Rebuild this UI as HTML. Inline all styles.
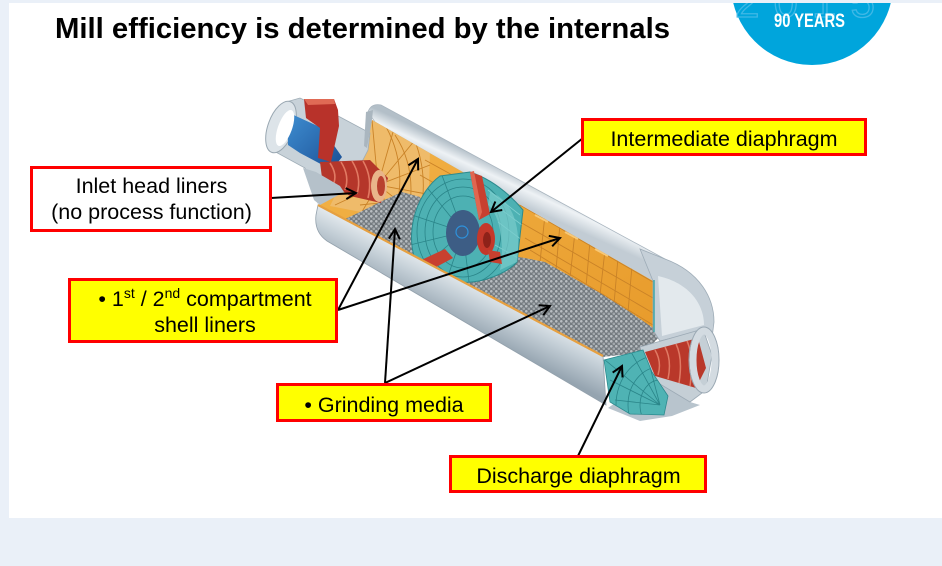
<!DOCTYPE html>
<html><head><meta charset="utf-8"><style>
html,body{margin:0;padding:0;background:#eaf0f8;}
svg{display:block;}
text{font-family:"Liberation Sans",Arial,sans-serif;}
</style></head><body>
<svg width="942" height="566" viewBox="0 0 942 566" xmlns="http://www.w3.org/2000/svg">
<defs>
  <pattern id="balls" width="5" height="5" patternUnits="userSpaceOnUse">
    <rect width="5" height="5" fill="#747b80"/>
    <circle cx="1.3" cy="1.3" r="1.3" fill="#b9bec2"/>
    <circle cx="3.8" cy="3.8" r="1.3" fill="#a3a9ad"/>
  </pattern>
  <linearGradient id="topband" gradientUnits="userSpaceOnUse" x1="505" y1="168" x2="494" y2="192">
    <stop offset="0" stop-color="#b3bfc8"/><stop offset="0.45" stop-color="#eef2f5"/><stop offset="1" stop-color="#c2ccd4"/>
  </linearGradient>
  <linearGradient id="lowband" gradientUnits="userSpaceOnUse" x1="450" y1="272" x2="430" y2="312">
    <stop offset="0" stop-color="#e3e9ed"/><stop offset="0.4" stop-color="#c3ced6"/><stop offset="1" stop-color="#95a4b0"/>
  </linearGradient>
  <linearGradient id="orng" x1="0" y1="0" x2="1" y2="1">
    <stop offset="0" stop-color="#f3b449"/><stop offset="1" stop-color="#e79a2a"/>
  </linearGradient>
  <linearGradient id="blue" x1="0" y1="0" x2="1" y2="1">
    <stop offset="0" stop-color="#3f8fd2"/><stop offset="1" stop-color="#1b4f95"/>
  </linearGradient>
  <marker id="ah" markerWidth="14" markerHeight="14" refX="12" refY="7" orient="auto" markerUnits="userSpaceOnUse">
    <path d="M2,1.5 L12,7 L2,12.5" fill="none" stroke="#000" stroke-width="2"/>
  </marker>
  <clipPath id="panel"><rect x="9" y="3" width="933" height="515"/></clipPath>
  <clipPath id="orClip"><polygon points="372,120 653,281 653,335 603,356 318,205 340,190 366,148"/></clipPath>
  <clipPath id="teal1"><path d="M440,176 C418,192 406,228 414,256 C422,276 448,284 472,282 C492,280 510,270 517,262 L523,210 C506,190 488,178 470,172 Z"/></clipPath>
  <clipPath id="teal2"><polygon points="604,360 643,350 652,372 668,396 664,415 630,414 610,402"/></clipPath>
</defs>

<rect width="942" height="566" fill="#eaf0f8"/>
<rect x="9" y="3" width="933" height="515" fill="#ffffff"/>

<g clip-path="url(#panel)">
  <circle cx="812" cy="-16" r="81" fill="#00a5dc"/>
  <text x="812" y="17" text-anchor="middle" font-size="44" fill="none" stroke="#3fb8e6" stroke-width="1.3" letter-spacing="14">2015</text>
  <text x="774" y="27" font-size="19" font-weight="bold" fill="#ffffff" textLength="71" lengthAdjust="spacingAndGlyphs" style="font-family:'Liberation Sans Narrow','Liberation Sans',sans-serif">90 YEARS</text>
</g>

<text x="55" y="38" font-size="29" font-weight="bold" fill="#000" textLength="615" lengthAdjust="spacingAndGlyphs">Mill efficiency is determined by the internals</text>

<path d="M368,112 Q371,103 381,105 L665,259 L653,282 L375,122 Z" fill="url(#topband)" stroke="#a9b5bf" stroke-width="0.8"/>

<polygon points="372,120 653,281 653,335 603,356 318,205 340,190 366,148" fill="url(#orng)"/>
<g clip-path="url(#orClip)" stroke="#c98227" stroke-width="0.9" fill="none">
  <polygon points="372,120 430,150 428,225 330,206" fill="#efbb6a" stroke="none"/>
  <path d="M378,185 L372,120 M378,185 L395,125 M378,185 L415,140 M378,185 L430,165 M378,185 L432,195 M378,185 L425,222 M378,185 L395,225 M378,185 L360,215 M378,185 L335,205"/>
  <path d="M395,135 Q415,165 410,205 M410,130 Q430,170 420,215 M385,125 Q405,160 398,200 M360,205 Q395,200 425,210"/>
  <path d="M430,150 L470,172 M425,160 L465,182 M420,175 L455,195"/>
  <path d="M520,205 L653,282 M520,222 L653,298 M525,238 L653,313 M530,250 L653,325"/>
  <path d="M545,215 L540,262 M575,232 L570,278 M605,250 L600,295 M632,266 L628,312 M560,224 L556,270 M590,241 L586,287 M618,258 L614,304"/>
  <path d="M535,215 L548,222 M565,232 L578,239 M595,249 L608,256" stroke="#f7c877" stroke-width="2"/>
</g>

<polygon points="345,219 360,212 380,202 402,192 420,197 440,262 447,274 345,219" fill="url(#balls)"/>
<polygon points="460,262 480,256 500,254 525,258 545,262 575,279 600,293 630,312 662,334 645,352 603,357 460,280" fill="url(#balls)"/>

<path d="M440,176 C418,192 406,228 414,256 C422,276 448,284 472,282 C492,280 510,270 517,262 L523,210 C506,190 488,178 470,172 Z" fill="#4db1b3" stroke="#2c8a8e" stroke-width="1"/>
<g clip-path="url(#teal1)" stroke="#2a8589" stroke-width="0.8" fill="none">
  <path d="M463,232 L425,185 M463,232 L412,215 M463,232 L410,245 M463,232 L420,270 M463,232 L445,285 M463,232 L470,290 M463,232 L440,170"/>
  <ellipse cx="463" cy="232" rx="30" ry="36"/>
  <ellipse cx="463" cy="232" rx="38" ry="45"/>
  <ellipse cx="463" cy="232" rx="46" ry="53"/>
  <path d="M488,190 L520,215 M495,205 L522,225 M498,222 L522,240 M495,245 L518,258" stroke="#7fd0d0"/>
</g>
<path d="M490,192 C512,200 522,225 517,262 L500,270 C505,245 500,215 488,205 Z" fill="#79cccc" opacity="0.7"/>
<ellipse cx="463" cy="233" rx="17" ry="23" fill="#3d5d85"/>
<circle cx="462" cy="232" r="6" fill="none" stroke="#2e92dc" stroke-width="1.2"/>
<ellipse cx="486" cy="239" rx="9" ry="16" fill="#c4382a"/>
<ellipse cx="487" cy="240" rx="4" ry="8" fill="#8e2219"/>
<polygon points="470,172 482,176 490,214 479,220" fill="#c8402f"/>
<polygon points="470,172 474,171 482,212 479,220" fill="#e06650"/>
<polygon points="417,262 445,249 453,258 425,273" fill="#c8402f"/>
<polygon points="488,250 500,252 502,264 490,262" fill="#c8402f"/>

<path d="M318,205 L603,356 L606,405 L327,241 Q314,232 316,215 Z" fill="url(#lowband)" stroke="#93a1ac" stroke-width="0.8"/>
<line x1="318" y1="205" x2="603" y2="356" stroke="#e6a040" stroke-width="2.2"/>

<path d="M640,249 L665,259 C700,272 714,298 714,322 L712,338 L700,331 L660,341 L653,330 L653,281 Z" fill="#c6d0d8" stroke="#9eacb7" stroke-width="0.8"/>
<path d="M658,276 C690,283 704,305 704,325 L662,336 Z" fill="#e3e9ed"/>
<line x1="654" y1="280" x2="654" y2="332" stroke="#3fa7a8" stroke-width="1.5"/>
<polygon points="650,378 690,402 700,405 672,416 640,421 608,408" fill="#b8c4cd"/>
<polygon points="640,347 703,329 712,355 706,390 690,402 650,378" fill="#c5cfd6" stroke="#9caab5" stroke-width="0.8"/>
<polygon points="645,352 698,338 706,368 696,388 655,376" fill="#b9382a"/>
<g stroke="#e07a64" stroke-width="1.5" fill="none">
  <path d="M655,350 Q662,362 658,375 M665,347 Q672,360 668,379 M676,344 Q683,358 679,383 M687,341 Q694,356 690,386"/>
</g>
<ellipse cx="704" cy="360" rx="11" ry="29" fill="none" stroke="#d3dbe1" stroke-width="7"/>
<ellipse cx="704" cy="360" rx="15" ry="33" fill="none" stroke="#9aa8b3" stroke-width="1"/>
<polygon points="604,360 643,350 652,372 668,396 664,415 630,414 610,402" fill="#4fb3b4" stroke="#2c8a8e" stroke-width="0.8"/>
<g clip-path="url(#teal2)" stroke="#2a8589" stroke-width="0.8" fill="none">
  <ellipse cx="660" cy="405" rx="20" ry="25"/>
  <ellipse cx="660" cy="405" rx="32" ry="38"/>
  <ellipse cx="660" cy="405" rx="44" ry="50"/>
  <path d="M660,405 L605,360 M660,405 L610,380 M660,405 L615,400 M660,405 L630,350 M660,405 L645,348"/>
</g>

<polygon points="286,102 300,98 340,117 370,133 368,150 350,185 318,203 305,168 272,150 268,125" fill="#c8d2d9" stroke="#9eacb6" stroke-width="0.8"/>
<ellipse cx="281" cy="127" rx="13" ry="27" transform="rotate(20 281 127)" fill="#dde4e9" stroke="#9aa8b2" stroke-width="1"/>
<polygon points="287,112 322,128 342,157 332,170 300,153 288,145" fill="url(#blue)"/>
<ellipse cx="285" cy="128" rx="7" ry="19" transform="rotate(20 285 128)" fill="#ffffff"/>
<polygon points="304,99 334,99 338,110 339,126 331,162 318,158 320,128 306,118" fill="#b8322a"/>
<polygon points="304,99 334,99 335,104 308,105" fill="#e06a55"/>
<polygon points="320,162 370,160 388,178 381,203 350,196 322,178" fill="#b5362a"/>
<g stroke="#e27a63" stroke-width="1.6" fill="none">
  <path d="M330,163 Q338,175 333,185 M341,162 Q350,176 345,190 M352,161 Q362,177 357,194 M363,161 Q373,178 368,198"/>
</g>
<ellipse cx="379" cy="186" rx="8" ry="16" fill="#e9b58a"/>
<ellipse cx="381" cy="186" rx="4" ry="10" fill="#b9412f"/>
<polygon points="366,112 373,110 372,120 367,148 364,146" fill="#aab6bf"/>
<polygon points="303,168 316,172 340,186 344,192 320,205 314,200" fill="#b5c1ca"/>

<g stroke="#000" stroke-width="2" fill="none">
  <line x1="271" y1="198" x2="356" y2="193" marker-end="url(#ah)"/>
  <line x1="583" y1="138" x2="491" y2="212" marker-end="url(#ah)"/>
  <line x1="338" y1="310" x2="418" y2="159" marker-end="url(#ah)"/>
  <line x1="338" y1="310" x2="560" y2="238" marker-end="url(#ah)"/>
  <line x1="385" y1="383" x2="395" y2="229" marker-end="url(#ah)"/>
  <line x1="385" y1="383" x2="550" y2="306" marker-end="url(#ah)"/>
  <line x1="578" y1="456" x2="622" y2="366" marker-end="url(#ah)"/>
</g>

<g stroke="#ff0000" stroke-width="3">
  <rect x="582.5" y="119.5" width="283" height="35" fill="#ffff00"/>
  <rect x="31.5" y="167.5" width="239" height="63" fill="#ffffff"/>
  <rect x="69.5" y="279.5" width="267" height="62" fill="#ffff00"/>
  <rect x="277.5" y="384.5" width="213" height="36" fill="#ffff00"/>
  <rect x="450.5" y="456.5" width="255" height="35" fill="#ffff00"/>
</g>
<g font-size="21.5" fill="#000" text-anchor="middle">
  <text x="724" y="146">Intermediate diaphragm</text>
  <text x="151.5" y="193">Inlet head liners</text>
  <text x="151.5" y="219">(no process function)</text>
  <text x="205" y="306">• 1<tspan font-size="14" dy="-8">st</tspan><tspan dy="8"> / 2</tspan><tspan font-size="14" dy="-8">nd</tspan><tspan dy="8"> compartment</tspan></text>
  <text x="205" y="332">shell liners</text>
  <text x="384" y="412">• Grinding media</text>
  <text x="578.5" y="483">Discharge diaphragm</text>
</g>
</svg>
</body></html>
